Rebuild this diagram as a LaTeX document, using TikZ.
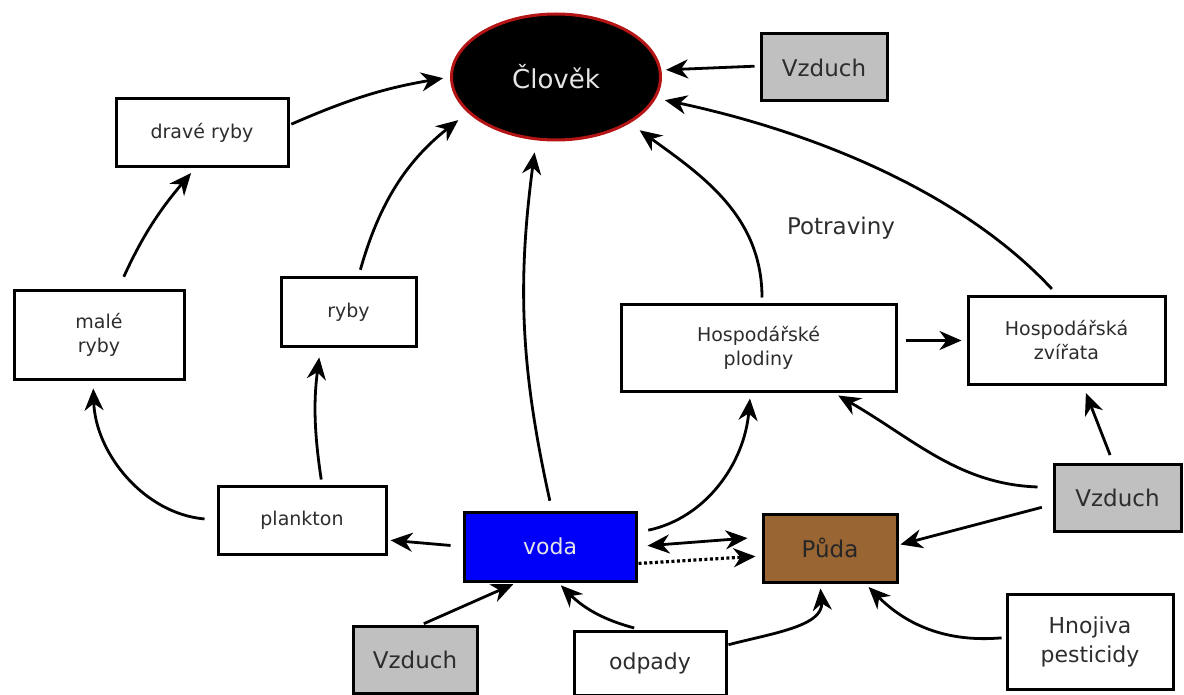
\documentclass[tikz,border=0pt]{standalone}
\usepackage{fontspec}
\setmainfont{DejaVu Sans}
\usetikzlibrary{arrows.meta,shapes.geometric}
\definecolor{pudabrown}{RGB}{153,102,51}
\definecolor{airgray}{RGB}{192,192,192}
\definecolor{textgray}{RGB}{45,45,45}
\definecolor{rimred}{RGB}{180,20,20}
\definecolor{waterblue}{RGB}{0,0,250}
\tikzset{
  flowtip/.tip={Stealth[length=22pt,width=19pt,inset=7pt]},
  box/.style={draw, line width=3pt, fill=white, text=textgray, inner sep=0pt, align=center, font=\fontsize{19}{24}\selectfont},
  bigbox/.style={box, font=\fontsize{22}{29}\selectfont},
  vzduch/.style={box, fill=airgray, font=\fontsize{23}{28}\selectfont},
  flow/.style={-flowtip, line width=2.8pt},
}
\begin{document}
\begin{tikzpicture}[x=1pt,y=-1pt]
\useasboundingbox (0,0) rectangle (1184,695);
\node[draw=rimred, line width=3pt, fill=black, shape=ellipse, minimum width=209pt, minimum height=126pt, inner sep=0pt, text=white!90!black, font=\fontsize{26}{30}\selectfont] (clovek) at (556,77) {Člověk};
\node[box, minimum width=172pt, minimum height=68pt] (drave) at (202,133) {dravé ryby};
\node[box, minimum width=170pt, minimum height=88pt] (male) at (99,335) {malé\\ryby};
\node[box, minimum width=135pt, minimum height=68pt] (ryby) at (348.5,312) {ryby};
\node[box, minimum width=168pt, minimum height=68pt] (plankton) at (302,520) {plankton};
\node[bigbox, fill=waterblue, text=white!90!black, minimum width=172pt, minimum height=69pt] (voda) at (550,546.5) {voda};
\node[bigbox, fill=pudabrown, text=black!85, minimum width=134pt, minimum height=68pt, font=\fontsize{23}{28}\selectfont] (puda) at (830,548) {Půda};
\node[box, minimum width=275pt, minimum height=87pt] (plodiny) at (758.5,347.5) {Hospodářské\\plodiny};
\node[box, minimum width=197pt, minimum height=87pt] (zvirata) at (1066.5,340.5) {Hospodářská\\zvířata};
\node[vzduch, minimum width=126pt, minimum height=67pt] (vzduchA) at (824,67.5) {Vzduch};
\node[vzduch, minimum width=127pt, minimum height=67pt] (vzduchB) at (1117.5,497.5) {Vzduch};
\node[vzduch, minimum width=124pt, minimum height=67pt] (vzduchC) at (415,659.5) {Vzduch};
\node[bigbox, minimum width=152pt, minimum height=64pt] (odpady) at (650,663) {odpady};
\node[bigbox, minimum width=166pt, minimum height=95pt] (hnojiva) at (1090,641.5) {Hnojiva\\pesticidy};
\node[text=textgray, font=\fontsize{23}{28}\selectfont] (potraviny) at (841,228) {Potraviny};

\draw[flow, shorten <=2pt, shorten >=7pt] ([yshift=8pt]drave.east) to[bend left=7] (clovek.west);
\draw[flow, shorten <=14pt, shorten >=6pt] ([xshift=19pt]male.north) to[bend left=8] ([xshift=-7pt]drave.south);
\draw[flow, shorten <=12pt, shorten >=8pt] (plankton.west) to[out=175,in=-88] ([xshift=-6pt]male.south);
\draw[flow, shorten <=5pt, shorten >=10pt] ([xshift=20pt]plankton.north) to[bend left=8] ([xshift=-28pt]ryby.south);
\draw[flow, shorten <=7pt, shorten >=12pt] ([xshift=10pt]ryby.north) to[bend left=18] (clovek.202);
\draw[flow, shorten <=12pt, shorten >=3pt] (voda.west) -- ([yshift=-20pt]plankton.east);
\draw[flow, shorten <=10pt, shorten >=11pt] ([xshift=2pt]voda.north) to[bend left=10] ([xshift=-20pt]clovek.south);
\draw[flow, shorten <=11pt, shorten >=6pt] ([yshift=14pt]voda.east) to[out=12,in=-95] ([xshift=-8pt]plodiny.south);
\draw[flow, flowtip-flowtip, shorten <=10pt, shorten >=14pt] (voda.east) -- ([yshift=11pt]puda.west);
\draw[flow, line width=3.2pt, dash pattern=on 3pt off 2.5pt, shorten <=1pt, shorten >=6pt] ([yshift=-17pt]voda.east) -- ([yshift=-8pt]puda.west);
\draw[flow, shorten <=11pt, shorten >=2pt] ([yshift=-7pt]vzduchB.west) -- ([yshift=3pt]puda.east);
\draw[flow, shorten <=15pt, shorten >=6pt] ([yshift=10pt]vzduchB.west) to[out=178,in=-30] ([xshift=74.5pt]plodiny.south);
\draw[flow, shorten <=8pt, shorten >=8pt] ([xshift=-4.5pt]vzduchB.north) -- ([xshift=16.5pt]zvirata.south);
\draw[flow, shorten <=4pt, shorten >=5pt] ([yshift=4pt]hnojiva.west) to[out=185,in=-45] ([xshift=35pt]puda.south);
\draw[flow, shorten <=1pt, shorten >=5pt] ([yshift=18pt]odpady.east) to[out=15,in=-85] ([xshift=-10pt]puda.south);
\draw[flow, shorten <=6pt, shorten >=4pt] ([xshift=-10pt]odpady.north) to[bend left=15] ([xshift=8pt]voda.south);
\draw[flow, shorten <=2pt, shorten >=4pt] ([xshift=7pt]vzduchC.north) -- ([xshift=-33pt]voda.south);
\draw[flow, shorten <=8pt, shorten >=5pt] ([yshift=7pt]plodiny.east) -- (zvirata.west);
\draw[flow, shorten <=5pt, shorten >=12pt] ([xshift=3.5pt]plodiny.north) to[out=90,in=-36] (clovek.-32);
\draw[flow, shorten <=9pt, shorten >=9pt] ([xshift=-8.5pt]zvirata.north) to[out=133,in=-12,looseness=0.85] (clovek.-12);
\draw[flow, shorten <=5pt, shorten >=4pt] ([yshift=1.5pt]vzduchA.west) -- ([yshift=7pt]clovek.east);
\end{tikzpicture}
\end{document}
